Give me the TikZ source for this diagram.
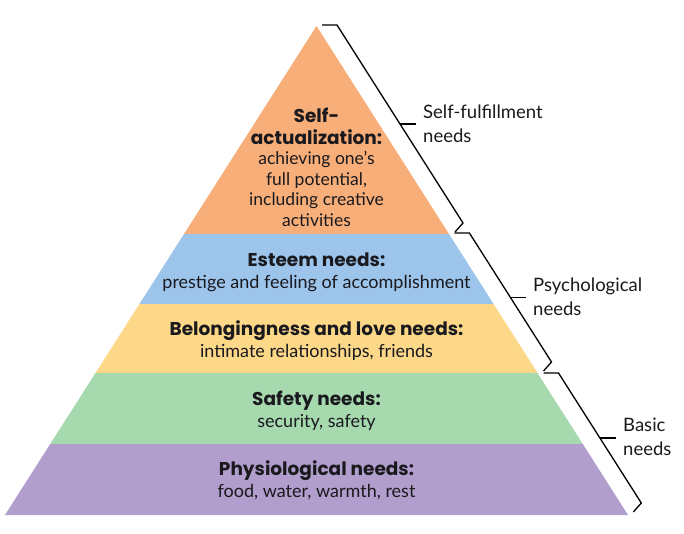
\documentclass[tikz,border=0pt]{standalone}
\usepackage{fontspec}
\setmainfont{Lato}
\newfontfamily\headfont{Poppins}
\usetikzlibrary{calc}
\definecolor{cOrange}{RGB}{247,174,120}
\definecolor{cBlue}{RGB}{157,196,234}
\definecolor{cYellow}{RGB}{253,216,136}
\definecolor{cGreen}{RGB}{167,217,175}
\definecolor{cPurple}{RGB}{178,158,204}
\definecolor{cText}{RGB}{25,25,30}
\newcommand{\hd}[1]{{\headfont\bfseries\fontsize{18.5}{22}\selectfont #1}}
\begin{document}
\begin{tikzpicture}[x=1pt,y=-1pt,
  lab/.style={text=cText, align=center, inner sep=0pt, font=\fontsize{18}{22}\selectfont},
  side/.style={text=cText, align=left, anchor=west, inner sep=0pt, font=\fontsize{18.5}{24}\selectfont},
  brace/.style={draw=black, line width=1.3pt, line join=miter}]
\useasboundingbox (0,0) rectangle (684,533);
% layers
\fill[cOrange] (316.5,26) -- (449,234) -- (184,234) -- cycle;
\fill[cBlue] (184,234) -- (449,234) -- (493.6,304) -- (139.4,304) -- cycle;
\fill[cYellow] (139.4,304) -- (493.6,304) -- (537.5,373) -- (95.5,373) -- cycle;
\fill[cGreen] (95.5,373) -- (537.5,373) -- (582.8,444) -- (50.2,444) -- cycle;
\fill[cPurple] (50.2,444) -- (582.8,444) -- (628,515) -- (5,515) -- cycle;
% texts
\node[lab, font=\fontsize{17.5}{20.5}\selectfont] (self) at (316.5,167.5) {\hd{Self-}\\[1pt]\hd{actualization:}\\achieving one’s\\full potential,\\including creative\\activities};
\node[lab] (esteem) at (316.5,272.5) {\hd{Esteem needs:}\\prestige and feeling of accomplishment};
\node[lab] (belong) at (316.5,341) {\hd{Belongingness and love needs:}\\intimate relationships, friends};
\node[lab] (safety) at (316.5,410.5) {\hd{Safety needs:}\\security, safety};
\node[lab] (physio) at (316.5,480) {\hd{Physiological needs:}\\food, water, warmth, rest};
% braces
\coordinate (b1t) at (337,25);
\coordinate (b1b) at (463,223);
\coordinate (b1m) at (400,124);
\draw[brace] ($(b1t)+(-15,0)$) -- (b1t) -- (b1b) -- ++(-8,9);
\draw[brace] (b1m) -- ++(16,0);
\coordinate (b2t) at (469.4,233);
\coordinate (b2b) at (551.5,362);
\coordinate (b2m) at (510.4,297.5);
\draw[brace] ($(b2t)+(-15,0)$) -- (b2t) -- (b2b) -- ++(-8,9);
\draw[brace] (b2m) -- ++(16,0);
\coordinate (b3t) at (558.5,373);
\coordinate (b3b) at (641.3,503);
\coordinate (b3m) at (599.9,438);
\draw[brace] ($(b3t)+(-15,0)$) -- (b3t) -- (b3b) -- ++(-8,9);
\draw[brace] (b3m) -- ++(16,0);
% side labels
\node[side] (sf) at (423,124) {Self-fulfillment\\needs};
\node[side] (psy) at (533,296.5) {Psychological\\needs};
\node[side] (basic) at (623,436.5) {Basic\\needs};
\end{tikzpicture}
\end{document}
